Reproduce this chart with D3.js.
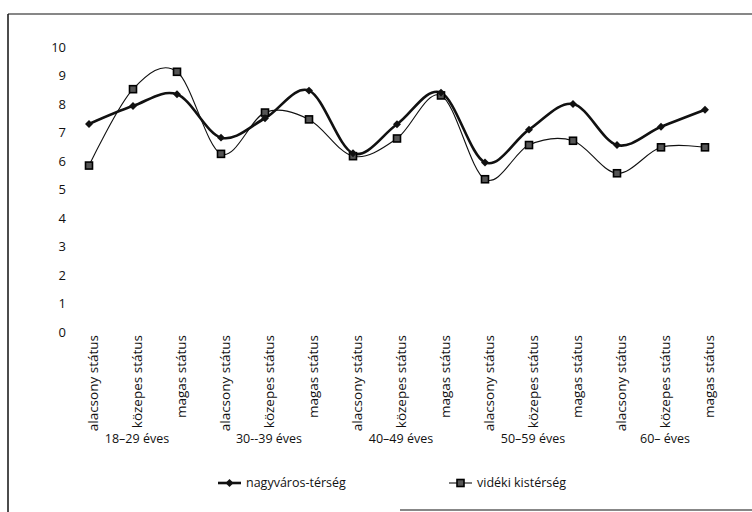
<!DOCTYPE html>
<html>

<head>
    <meta charset="utf-8">
    <title>Státus korcsoportok szerint</title>
    <script src="https://d3js.org/d3.v7.min.js"></script>
    <style>
        body { margin: 0; background: #fff; }
        text { font-family: "Open Sans", "Liberation Sans", Arial, sans-serif; fill: #111; }
    </style>
</head>

<body>
    <script type="text/javascript">
        // data
        const statuses = ["alacsony státus", "közepes státus", "magas státus"];
        const ageGroups = ["18–29 éves", "30--39 éves", "40–49 éves", "50–59 éves", "60– éves"];
        const nagyvaros = [7.3, 7.93, 8.34, 6.82, 7.5, 8.47, 6.27, 7.29, 8.4, 5.95, 7.1, 8.0, 6.56, 7.2, 7.8];
        const videki = [5.84, 8.52, 9.13, 6.25, 7.7, 7.46, 6.17, 6.79, 8.3, 5.36, 6.56, 6.71, 5.57, 6.48, 6.48];
        const yTicks = [0, 1, 2, 3, 4, 5, 6, 7, 8, 9, 10];
        const seriesNames = ["nagyváros-térség", "vidéki kistérség"];

        const width = 752, height = 512;

        // one category per (age group, status)
        const cats = [];
        ageGroups.forEach((g, gi) => statuses.forEach((s, si) => cats.push({ id: gi * 3 + si, group: g, status: s })));

        const svg = d3.select("body").append("svg")
            .attr("width", width)
            .attr("height", height);

        // scanned page frame
        svg.append("line").attr("x1", 8).attr("y1", 14).attr("x2", width).attr("y2", 14)
            .attr("stroke", "#111").attr("stroke-width", 1.2);
        svg.append("line").attr("x1", 8).attr("y1", 14).attr("x2", 8).attr("y2", height)
            .attr("stroke", "#111").attr("stroke-width", 1.5);
        svg.append("line").attr("x1", 400).attr("y1", 510).attr("x2", width).attr("y2", 510)
            .attr("stroke", "#111").attr("stroke-width", 1.2);

        const x = d3.scaleBand().domain(cats.map(c => c.id)).range([67, 727]);
        const y = d3.scaleLinear().domain([0, 10]).range([332, 47]);
        const cx = i => x(i) + x.bandwidth() / 2;

        // y axis labels only (no axis line or gridlines)
        svg.append("g")
            .selectAll("text")
            .data(yTicks)
            .join("text")
            .attr("x", 66)
            .attr("y", d => y(d))
            .attr("dy", "0.35em")
            .attr("text-anchor", "end")
            .style("font-size", "13px")
            .text(d => d);

        // rotated status labels
        svg.append("g")
            .selectAll("text")
            .data(cats)
            .join("text")
            .attr("transform", d => "translate(" + (cx(d.id) + 9) + ",335) rotate(-90)")
            .attr("text-anchor", "end")
            .style("font-size", "13.5px")
            .text(d => d.status);

        // age group labels
        svg.append("g")
            .selectAll("text")
            .data(ageGroups)
            .join("text")
            .attr("x", (d, i) => cx(i * 3 + 1) + 4)
            .attr("y", 443)
            .attr("text-anchor", "middle")
            .style("font-size", "12.5px")
            .text(d => d);

        const line = d3.line()
            .x((d, i) => cx(i))
            .y(d => y(d))
            .curve(d3.curveCardinal.tension(0));

        svg.append("path")
            .attr("d", line(videki))
            .attr("fill", "none")
            .attr("stroke", "#111")
            .attr("stroke-width", 1.1);

        svg.append("path")
            .attr("d", line(nagyvaros))
            .attr("fill", "none")
            .attr("stroke", "#111")
            .attr("stroke-width", 2.6);

        const diamond = d3.symbol().type(d3.symbolDiamond2).size(40);

        svg.append("g")
            .selectAll("rect")
            .data(videki)
            .join("rect")
            .attr("x", (d, i) => cx(i) - 3.5)
            .attr("y", d => y(d) - 3.5)
            .attr("width", 7)
            .attr("height", 7)
            .attr("fill", "#555")
            .attr("stroke", "#000")
            .attr("stroke-width", 1.6);

        svg.append("g")
            .selectAll("path")
            .data(nagyvaros)
            .join("path")
            .attr("d", diamond)
            .attr("transform", (d, i) => "translate(" + cx(i) + "," + y(d) + ")")
            .attr("fill", "#111");

        // legend
        const leg = svg.append("g");
        leg.append("line").attr("x1", 218).attr("x2", 241).attr("y1", 483).attr("y2", 483)
            .attr("stroke", "#111").attr("stroke-width", 2.6);
        leg.append("path").attr("d", diamond).attr("transform", "translate(229.5,483)").attr("fill", "#111");
        leg.append("text").attr("x", 246).attr("y", 487).style("font-size", "12.5px").text(seriesNames[0]);

        leg.append("line").attr("x1", 449).attr("x2", 472).attr("y1", 483).attr("y2", 483)
            .attr("stroke", "#111").attr("stroke-width", 1.1);
        leg.append("rect").attr("x", 457).attr("y", 479.5).attr("width", 7).attr("height", 7)
            .attr("fill", "#555").attr("stroke", "#000").attr("stroke-width", 1.6);
        leg.append("text").attr("x", 477).attr("y", 487).style("font-size", "12.5px").text(seriesNames[1]);
    </script>
</body>

</html>
